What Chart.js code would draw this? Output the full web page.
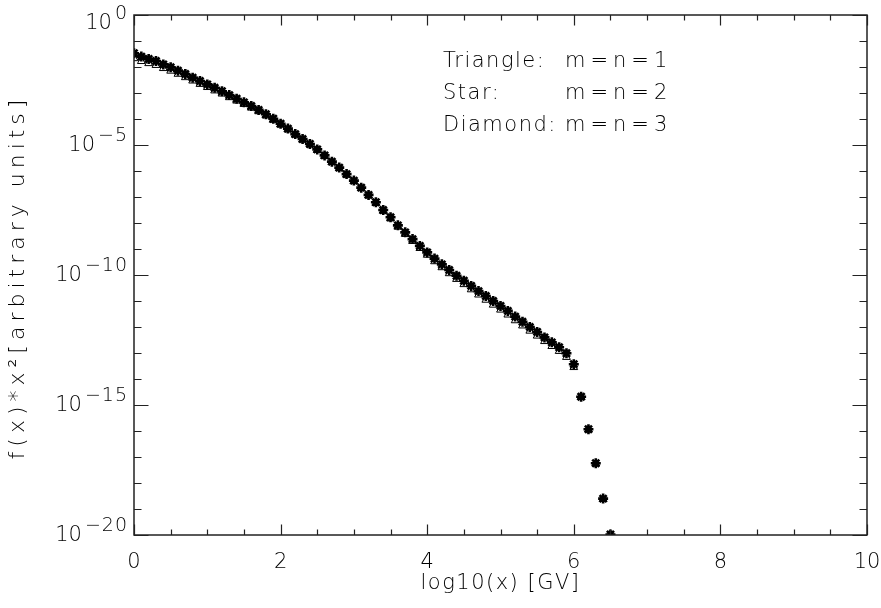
<!DOCTYPE html>
<html>
<head>
<meta charset="utf-8">
<script src="https://cdn.jsdelivr.net/npm/chart.js@4"></script>
<style>
  html, body { margin: 0; padding: 0; background: #fff; }
  #wrap { width: 881px; height: 608px; }
</style>
</head>
<body>
<div id="wrap"><canvas id="myChart" width="881" height="608"></canvas></div>
<script>
// log10(x) positions of the points
const xVals = [0.0, 0.1, 0.2, 0.3, 0.4, 0.5, 0.6, 0.7, 0.8, 0.9,
  1.0, 1.1, 1.2, 1.3, 1.4, 1.5, 1.6, 1.7, 1.8, 1.9,
  2.0, 2.1, 2.2, 2.3, 2.4, 2.5, 2.6, 2.7, 2.8, 2.9,
  3.0, 3.1, 3.2, 3.3, 3.4, 3.5, 3.6, 3.7, 3.8, 3.9,
  4.0, 4.1, 4.2, 4.3, 4.4, 4.5, 4.6, 4.7, 4.8, 4.9,
  5.0, 5.1, 5.2, 5.3, 5.4, 5.5, 5.6, 5.7, 5.8, 5.9,
  6.0, 6.1, 6.2, 6.3, 6.4, 6.5];

// exponents (log10 of f(x)*x^2)
const starExp = [-1.47, -1.60, -1.69, -1.77, -1.90, -2.01, -2.14, -2.27, -2.41, -2.54,
  -2.67, -2.80, -2.93, -3.08, -3.22, -3.36, -3.50, -3.65, -3.82, -3.99,
  -4.18, -4.37, -4.58, -4.77, -4.96, -5.17, -5.40, -5.64, -5.87, -6.12,
  -6.37, -6.64, -6.92, -7.20, -7.50, -7.78, -8.09, -8.36, -8.62, -8.88,
  -9.13, -9.37, -9.59, -9.81, -10.03, -10.22, -10.42, -10.62, -10.81, -11.00,
  -11.19, -11.38, -11.60, -11.80, -12.00, -12.19, -12.40, -12.59, -12.78, -13.01,
  -13.43, -14.68, -15.93, -17.24, -18.60, -19.98];

const triangleExp = [-1.67, -1.78, -1.86, -1.93, -2.05, -2.15, -2.27, -2.40, -2.53, -2.66,
  -2.78, -2.91, -3.03, -3.17, -3.30, -3.43, -3.57, -3.71, -3.87, -4.04,
  -4.22, -4.41, -4.61, -4.80, -4.99, -5.20, -5.43, -5.67, -5.90, -6.15,
  -6.40, -6.67, -6.95, -7.24, -7.54, -7.83, -8.15, -8.43, -8.70, -8.97,
  -9.23, -9.48, -9.71, -9.94, -10.16, -10.36, -10.56, -10.76, -10.96, -11.15,
  -11.34, -11.53, -11.75, -11.95, -12.15, -12.34, -12.55, -12.74, -12.93, -13.16,
  -13.55, -14.70, -15.95, -17.26, -18.62, -19.99];

const diamondExp = [-1.47, -1.60, -1.69, -1.77, -1.90, -2.01, -2.14, -2.27, -2.41, -2.54,
  -2.67, -2.80, -2.93, -3.08, -3.22, -3.36, -3.50, -3.65, -3.82, -3.99,
  -4.18, -4.37, -4.58, -4.77, -4.96, -5.17, -5.40, -5.64, -5.87, -6.12,
  -6.37, -6.64, -6.92, -7.20, -7.50, -7.78, -8.09, -8.36, -8.62, -8.88,
  -9.13, -9.37, -9.59, -9.81, -10.03, -10.22, -10.42, -10.62, -10.81, -11.00,
  -11.19, -11.38, -11.60, -11.80, -12.00, -12.19, -12.40, -12.59, -12.78, -13.01,
  -13.43, -14.68, -15.93, -17.24, -18.60, -19.98];

const xTicks = [0, 2, 4, 6, 8, 10];
const yTickExp = [0, -5, -10, -15, -20];
const legendRows = [['Triangle:', 'm=n=1'], ['Star:', 'm=n=2'], ['Diamond:', 'm=n=3']];
const xTitle = 'log10(x) [GV]';
const yTitle = 'f(x)*x\u00b2[arbitrary units]';

const txtColor = '#000';
const fontFam = "'DejaVu Sans', sans-serif";
const fontW = '200 ';

function toPoints(exps) {
  return xVals.map((x, i) => ({ x: x, y: Math.pow(10, exps[i]) }));
}

// frame, inward ticks, y labels with superscripts, titles, text legend
const framePlugin = {
  id: 'frame',
  afterDraw(chart) {
    const c = chart.ctx;
    const a = chart.chartArea;
    const xs = chart.scales.x;
    const ys = chart.scales.y;
    c.save();
    c.strokeStyle = '#222';
    c.lineWidth = 1.5;
    c.strokeRect(a.left, a.top, a.right - a.left, a.bottom - a.top);

    c.lineWidth = 1.2;
    c.beginPath();
    for (let v = 0; v <= 10.001; v += 0.5) {
      const px = Math.round(xs.getPixelForValue(v)) + 0.5;
      const len = (Math.abs(v % 2) < 0.01) ? 10.5 : 5.5;
      c.moveTo(px, a.bottom); c.lineTo(px, a.bottom - len);
      c.moveTo(px, a.top); c.lineTo(px, a.top + len);
    }
    for (let e = -20; e <= 0; e++) {
      const py = Math.round(ys.getPixelForValue(Math.pow(10, e))) + 0.5;
      const len = (e % 5 === 0) ? 14.5 : 7.5;
      c.moveTo(a.left, py); c.lineTo(a.left + len, py);
      c.moveTo(a.right, py); c.lineTo(a.right - len, py);
    }
    c.stroke();

    c.fillStyle = txtColor;
    c.textBaseline = 'middle';
    c.textAlign = 'right';
    yTickExp.forEach(e => {
      let py = ys.getPixelForValue(Math.pow(10, e));
      if (py < a.top + 8) py = a.top + 8;
      const sup = e === 0 ? '0' : '\u2212' + (-e);
      c.font = fontW + '19px ' + fontFam;
      c.letterSpacing = '1px';
      const w = c.measureText(sup).width;
      c.fillText(sup, a.left - 6, py - 9);
      c.font = fontW + '21px ' + fontFam;
      c.letterSpacing = '0px';
      c.fillText('10', a.left - 9 - w, py + 1);
    });

    // axis titles
    c.textAlign = 'center';
    c.font = fontW + '21px ' + fontFam;
    c.letterSpacing = '1.5px';
    c.fillText(xTitle, (a.left + a.right) / 2, 584);
    c.save();
    c.translate(18, (a.top + a.bottom) / 2 + 2);
    c.rotate(-Math.PI / 2);
    c.font = fontW + '22px ' + fontFam;
    c.letterSpacing = '5px';
    c.fillText(yTitle, 0, 0);
    c.restore();

    c.textAlign = 'left';
    c.font = fontW + '21px ' + fontFam;
    legendRows.forEach((r, i) => {
      const py = 62 + i * 32;
      c.letterSpacing = '1.5px';
      c.fillText(r[0], 443, py);
      c.letterSpacing = '5px';
      c.fillText(r[1], 565, py);
    });
    c.restore();
  }
};

new Chart(document.getElementById('myChart'), {
  type: 'scatter',
  data: {
    datasets: [{
      label: 'Star: m=n=2',
      data: toPoints(starExp),
      pointStyle: 'star',
      radius: 5,
      borderWidth: 2.6,
      borderColor: '#000',
      backgroundColor: '#000'
    }, {
      label: 'Triangle: m=n=1',
      data: toPoints(triangleExp),
      pointStyle: 'triangle',
      radius: 4.5,
      borderWidth: 1,
      borderColor: '#000',
      backgroundColor: '#fff'
    }, {
      label: 'Diamond: m=n=3',
      data: toPoints(diamondExp),
      pointStyle: 'rectRot',
      radius: 3,
      borderWidth: 1,
      borderColor: '#000',
      backgroundColor: '#fff'
    }]
  },
  options: {
    responsive: false,
    animation: false,
    layout: { padding: { top: 15, right: 14, left: 0, bottom: 0 } },
    plugins: {
      legend: { display: false },
      tooltip: { enabled: false }
    },
    scales: {
      x: {
        type: 'linear',
        min: 0,
        max: 10,
        afterBuildTicks: s => { s.ticks = xTicks.map(v => ({ value: v })); },
        ticks: { color: txtColor, font: { family: fontFam, size: 21, weight: 200 }, padding: 7, maxRotation: 0 },
        grid: { display: false },
        border: { display: false },
        afterFit: s => { s.height = 73; s.paddingLeft = 0; s.paddingRight = 0; }
      },
      y: {
        type: 'logarithmic',
        min: 1e-20,
        max: 1,
        ticks: { display: false },
        grid: { display: false },
        border: { display: false },
        afterFit: s => { s.width = 134; s.paddingTop = 0; s.paddingBottom = 0; }
      }
    }
  },
  plugins: [framePlugin]
});
</script>
</body>
</html>
